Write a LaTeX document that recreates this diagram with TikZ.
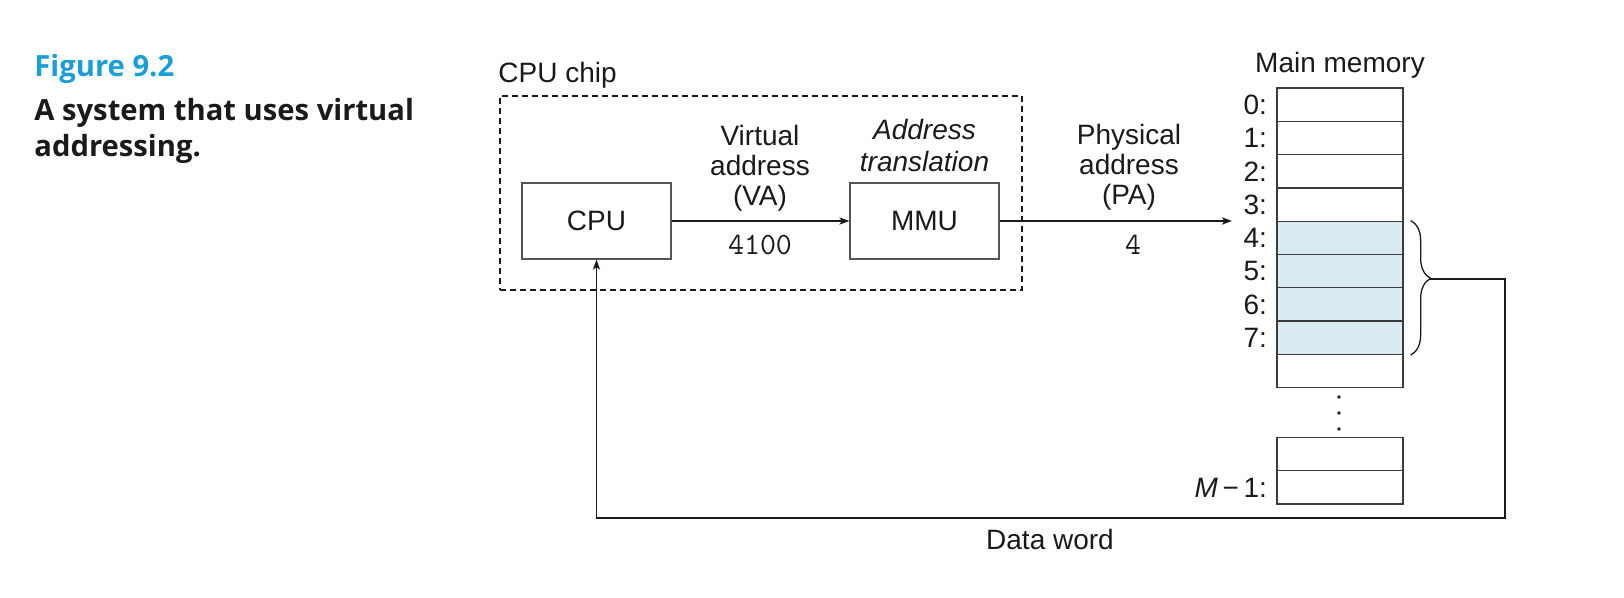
\documentclass[tikz,border=0pt]{standalone}
\usepackage{fontspec}
\setmainfont{Liberation Sans}
\newfontfamily\titlefont{Open Sans}
\usetikzlibrary{arrows.meta,decorations.pathreplacing}
\definecolor{figblue}{HTML}{1B9DD9}
\definecolor{memfill}{HTML}{D9EAF2}
\definecolor{ink}{HTML}{1A1A1A}
\definecolor{boxline}{HTML}{555555}
\begin{document}
\begin{tikzpicture}[x=0.5pt,y=-0.5pt,
  lbl/.style={font=\fontsize{14}{15}\selectfont, text=ink, inner sep=0pt},
  ilbl/.style={font=\itshape\fontsize{14}{16}\selectfont, text=ink, inner sep=0pt},
  mono/.style={font=\ttfamily\fontsize{15.5}{15}\selectfont, text=ink, inner sep=0pt},
  unit/.style={draw=boxline, line width=0.6pt, fill=white, minimum width=74.5pt, minimum height=38pt, inner sep=0pt, font=\fontsize{14}{15}\selectfont, text=ink},
  cell/.style={draw=ink!85, line width=0.65pt, fill=white, minimum width=63pt, minimum height=16.65pt, inner sep=0pt},
  hot/.style={cell, fill=memfill},
  addr/.style={lbl, anchor=east},
  chipbox/.style={draw=ink, line width=0.65pt, dash pattern=on 3pt off 2pt, minimum width=261pt, minimum height=97pt, inner sep=0pt},
  conn/.style={draw=ink, line width=0.65pt},
  tip/.style={-{Stealth[length=5pt,width=3.6pt,inset=1.2pt]}},
  title/.style={font=\titlefont\bfseries\fontsize{14.6}{18}\selectfont, inner sep=0pt, anchor=base west, align=left}
]
\useasboundingbox (0,0) rectangle (1624,598);

% caption
\node[title, text=figblue] (fig) at (34,77) {Figure 9.2};
\node[title, text=ink] (cap) at (34,157) {A system that uses virtual\\addressing.};

% CPU chip
\node[chipbox] (chip) at (761,193) {};
\node[lbl, anchor=base west] (chiplbl) at (498,83) {CPU chip};
\node[unit] (cpu) at (596.5,221) {CPU};
\node[unit] (mmu) at (924.5,221) {MMU};
\draw[conn,tip] (cpu) -- (mmu);
\node[lbl, align=center, anchor=base] (va) at (760,206) {Virtual\\address\\(VA)};
\node[mono, anchor=base] (vanum) at (760,255) {4100};
\node[ilbl, align=center, anchor=base] (at) at (924.5,172) {Address\\translation};

% physical address
\coordinate (pain) at (1232,221);
\draw[conn,tip] (mmu) -- (pain);
\node[lbl, align=center, anchor=base] (pa) at (1129,205) {Physical\\address\\(PA)};
\node[mono, anchor=base] (panum) at (1133,255) {4};

% main memory
\node[lbl, anchor=base] (mm) at (1340,73) {Main memory};
\foreach \i in {0,...,8}{
  \ifnum\i>3 \ifnum\i<8
    \node[hot] (m\i) at (1340,{104.65+33.3*\i}) {};
  \else
    \node[cell] (m\i) at (1340,{104.65+33.3*\i}) {};
  \fi\else
    \node[cell] (m\i) at (1340,{104.65+33.3*\i}) {};
  \fi
}
\foreach \i in {0,...,7}{
  \node[addr] (l\i) at ([xshift=-4.5pt]m\i.west) {\i:};
}
\fill[ink] (1339,397) circle (0.9pt) (1339,413) circle (0.9pt) (1339,429) circle (0.9pt);
\node[cell] (mA) at (1340,454.5) {};
\node[cell] (mB) at (1340,487.5) {};
\node[addr] (lB) at ([xshift=-4.5pt]mB.west) {{\itshape M}\,−\,1:};

% brace and data word
\draw[conn, decorate, decoration={brace, amplitude=10pt, aspect=0.43}]
  ([xshift=3.5pt]m4.north east) -- ([xshift=3.5pt]m7.south east);
\coordinate (btip) at (1430,279);
\coordinate (rc) at (1505,279);
\coordinate (bc) at (1505,518);
\draw[conn,tip] (btip) -- (rc) -- (bc) -| (cpu.south);
\node[lbl, anchor=base] (dw) at (1050,550) {Data word};
\end{tikzpicture}
\end{document}
